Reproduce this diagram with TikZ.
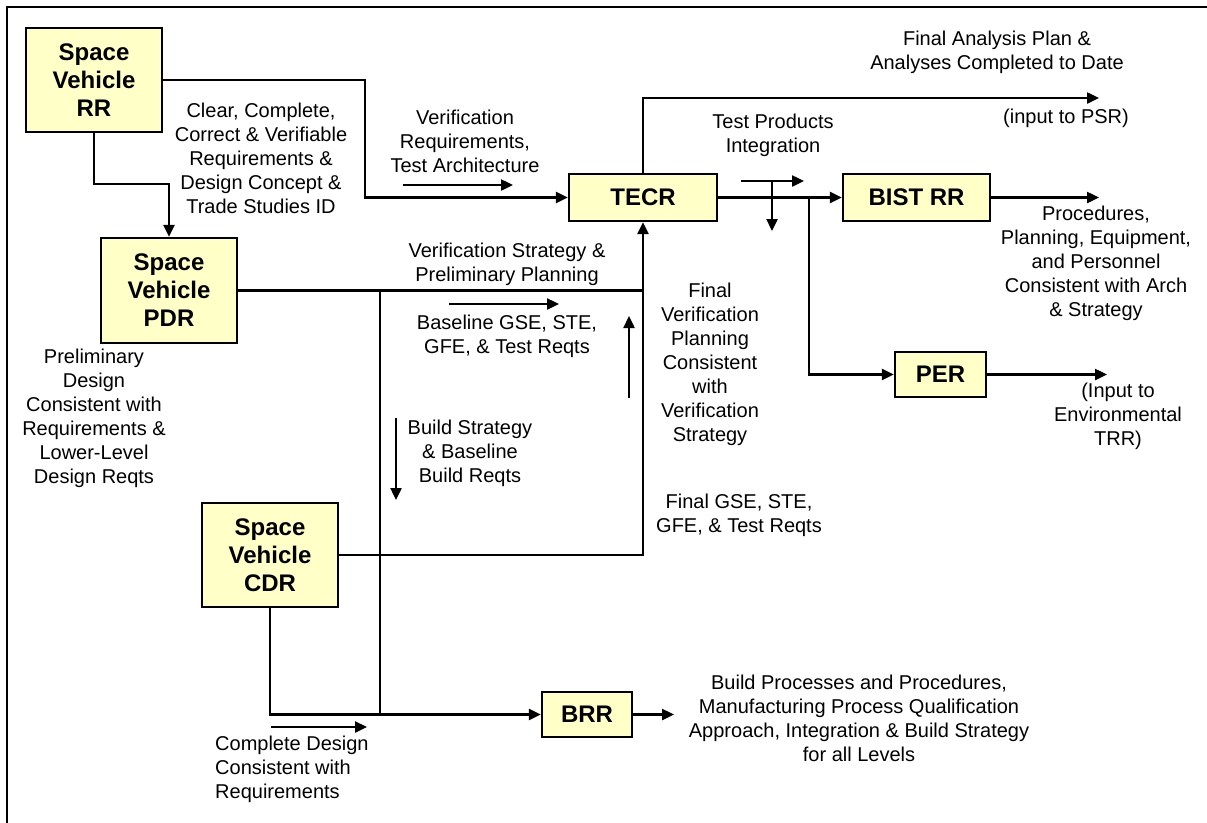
\documentclass[tikz,border=0pt]{standalone}
\usepackage{fontspec}
\setmainfont{Liberation Sans}
\usetikzlibrary{arrows.meta}
\definecolor{boxfill}{RGB}{255,255,200}
\begin{document}
\begin{tikzpicture}[x=1pt,y=-1pt,
  box/.style={draw=black,line width=2.2pt,fill=boxfill,inner sep=0pt,align=center,
    font=\fontsize{24}{28}\selectfont\bfseries},
  lbl/.style={align=center,inner sep=0pt,font=\fontsize{20}{24}\selectfont},
  conn/.style={line width=2.4pt},
  arr/.style={conn,-{Triangle[length=12pt,width=11pt]}}]
\useasboundingbox (0,0) rectangle (1207,822);
\draw[line width=2.4pt] (7,830) -- (7,7) -- (1215,7);

% boxes
\node[box,minimum width=136pt,minimum height=104pt] (rr) at (94,80) {Space\\Vehicle\\RR};
\node[box,minimum width=136pt,minimum height=105pt] (pdr) at (169,290.5) {Space\\Vehicle\\PDR};
\node[box,minimum width=136pt,minimum height=104pt] (cdr) at (270,555) {Space\\Vehicle\\CDR};
\node[box,minimum width=148pt,minimum height=47pt] (tecr) at (643,197.5) {TECR};
\node[box,minimum width=147pt,minimum height=47pt] (bist) at (916.5,197.5) {BIST RR};
\node[box,minimum width=91pt,minimum height=45pt] (per) at (940.5,374.5) {PER};
\node[box,minimum width=90pt,minimum height=45pt] (brr) at (587,714.5) {BRR};

% junction / end coordinates
\coordinate (j1) at (365,80);
\coordinate (j2) at (365,197.5);
\coordinate (j3) at (94,184);
\coordinate (j4) at (169,184);
\coordinate (j5) at (643,290.5);
\coordinate (j6) at (643,555);
\coordinate (v1) at (380,290.5);
\coordinate (v2) at (380,714.5);
\coordinate (j7) at (270,714.5);
\coordinate (e1) at (674,714.5);
\coordinate (j8) at (643,98);
\coordinate (e2) at (1099,98);
\coordinate (j9) at (809,197.5);
\coordinate (j10) at (809,374.5);
\coordinate (e3) at (1099,197.5);
\coordinate (e4) at (1107,374.5);

% connectors
\draw[arr] (rr.east) -- (j1) -- (j2) -- (tecr.west);
\draw[arr] (rr.south) -- (j3) -- (j4) -- (pdr.north);
\draw[conn] (pdr.east) -- (j5);
\draw[arr] (cdr.east) -- (j6) -- (tecr.south);
\draw[conn] (v1) -- (v2);
\draw[arr] (cdr.south) -- (j7) -- (brr.west);
\draw[arr] (brr.east) -- (e1);
\draw[arr] (tecr.north) -- (j8) -- (e2);
\draw[arr] (tecr.east) -- (bist.west);
\draw[arr] (j9) -- (j10) -- (per.west);
\draw[arr] (bist.east) -- (e3);
\draw[arr] (per.east) -- (e4);

% indicator arrows
\coordinate (a1s) at (403,185); \coordinate (a1e) at (513,185);
\coordinate (a2s) at (449,304); \coordinate (a2e) at (559,304);
\coordinate (a3s) at (629,398); \coordinate (a3e) at (629,316);
\coordinate (a4s) at (396,418); \coordinate (a4e) at (396,500);
\coordinate (a5s) at (741,181); \coordinate (a5e) at (804,181);
\coordinate (a6s) at (772,181); \coordinate (a6e) at (772,231);
\coordinate (a7s) at (271,727); \coordinate (a7e) at (367,727);
\draw[arr] (a1s) -- (a1e);
\draw[arr] (a2s) -- (a2e);
\draw[arr] (a3s) -- (a3e);
\draw[arr] (a4s) -- (a4e);
\draw[arr] (a5s) -- (a5e);
\draw[arr] (a6s) -- (a6e);
\draw[arr] (a7s) -- (a7e);

% labels
\node[lbl] (t1) at (261,158) {Clear, Complete,\\Correct \& Verifiable\\Requirements \&\\Design Concept \&\\Trade Studies ID};
\node[lbl] (t2) at (465,141) {Verification\\Requirements,\\Test Architecture};
\node[lbl] (t3) at (507,264) {Verification Strategy \&\\Preliminary Planning};
\node[lbl] (t4) at (507,336) {Baseline GSE, STE,\\GFE, \& Test Reqts};
\node[lbl] (t5) at (710,364) {Final\\Verification\\Planning\\Consistent\\with\\Verification\\Strategy};
\node[lbl] (t6) at (470,453) {Build Strategy\\\& Baseline\\Build Reqts};
\node[lbl] (t7) at (739,515) {Final GSE, STE,\\GFE, \& Test Reqts};
\node[lbl] (t8) at (94,418) {Preliminary\\Design\\Consistent with\\Requirements \&\\Lower-Level\\Design Reqts};
\node[lbl,align=left,anchor=west] (t9) at (215,769) {Complete Design\\Consistent with\\Requirements};
\node[lbl] (t10) at (859,718) {Build Processes and Procedures,\\Manufacturing Process Qualification\\Approach, Integration \& Build Strategy\\for all Levels};
\node[lbl] (t11) at (997,52) {Final Analysis Plan \&\\Analyses Completed to Date};
\node[lbl] (t12) at (1066,118) {(input to PSR)};
\node[lbl] (t13) at (773,135) {Test Products\\Integration};
\node[lbl] (t14) at (1096,263) {Procedures,\\Planning, Equipment,\\and Personnel\\Consistent with Arch\\\& Strategy};
\node[lbl] (t15) at (1118,416) {(Input to\\Environmental\\TRR)};
\end{tikzpicture}
\end{document}
